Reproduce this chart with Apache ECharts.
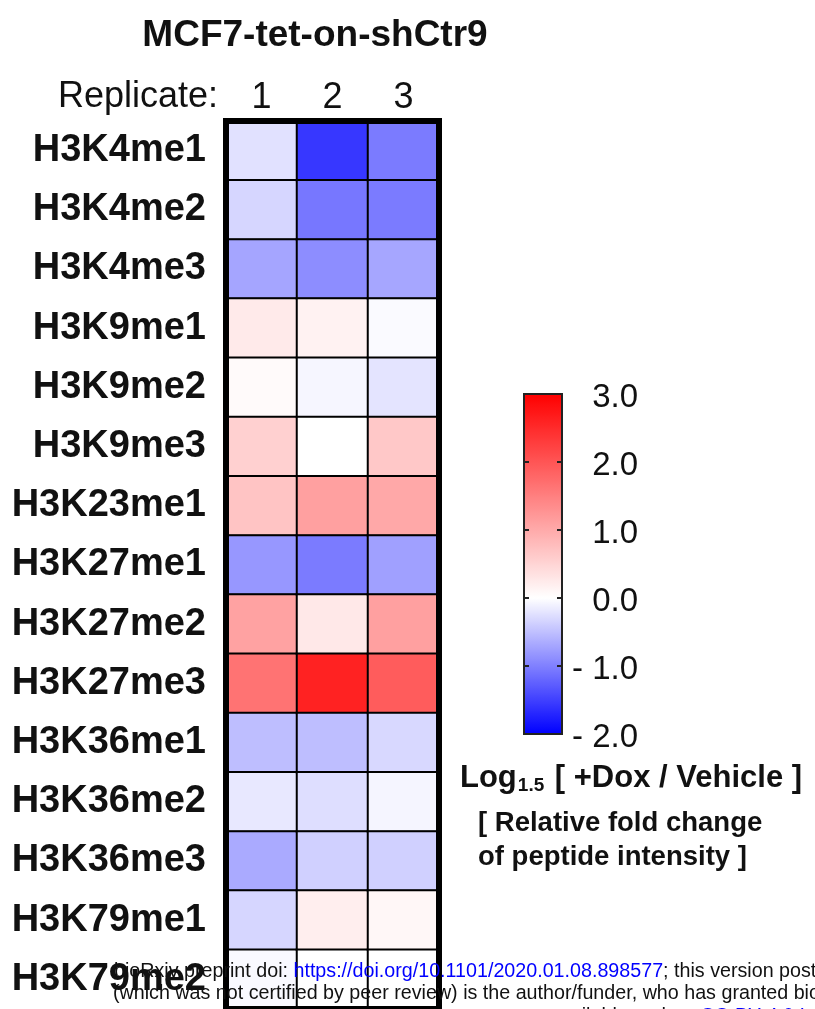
<!DOCTYPE html>
<html><head><meta charset="utf-8">
<script src="https://cdn.jsdelivr.net/npm/echarts@6/dist/echarts.min.js"></script>
<style>html,body{margin:0;padding:0;background:#fff}#c{width:815px;height:1009px}</style>
</head><body><div id="c"></div>
<script>
const marks = ['H3K4me1','H3K4me2','H3K4me3','H3K9me1','H3K9me2','H3K9me3','H3K23me1','H3K27me1','H3K27me2','H3K27me3','H3K36me1','H3K36me2','H3K36me3','H3K79me1','H3K79me2'];
const replicates = ['1','2','3'];
const rep1 = [-0.24,-0.32,-0.71,0.25,0.06,0.55,0.69,-0.82,1.10,1.65,-0.51,-0.18,-0.67,-0.32,-0.05];
const rep2 = [-1.57,-1.07,-0.90,0.15,-0.07,0.00,1.12,-1.04,0.27,2.60,-0.51,-0.26,-0.37,0.20,0.00];
const rep3 = [-1.04,-1.04,-0.70,-0.04,-0.21,0.65,1.02,-0.75,1.12,1.92,-0.31,-0.08,-0.37,0.10,0.00];
const scaleMin = -2, scaleMax = 3, scaleStep = 1;

const reps = [rep1, rep2, rep3];
const data = [];
reps.forEach((arr, xi) => arr.forEach((v, yi) => data.push([xi, yi, v])));

const FONT = '"Liberation Sans", Arial, sans-serif';
const chart = echarts.init(document.getElementById('c'), null, {renderer: 'canvas'});
chart.setOption({
  backgroundColor: '#ffffff',
  animation: false,
  grid: [
    {left: 226, top: 121, width: 213, height: 888, show: true, borderColor: '#000', borderWidth: 6, backgroundColor: 'transparent', z: 10},
    {left: 524, top: 394, width: 38, height: 340, show: true, borderColor: '#222', borderWidth: 2, backgroundColor: 'transparent', z: 10}
  ],
  xAxis: [
    {type: 'category', gridIndex: 0, data: replicates, position: 'top',
     axisLine: {show: false}, axisTick: {show: false}, splitLine: {show: false},
     axisLabel: {fontFamily: FONT, fontSize: 36, color: '#111', margin: 5}},
    {type: 'value', gridIndex: 1, show: false, min: 0, max: 1}
  ],
  yAxis: [
    {type: 'category', gridIndex: 0, data: marks, inverse: true,
     axisLine: {show: false}, axisTick: {show: false}, splitLine: {show: false},
     axisLabel: {fontFamily: FONT, fontSize: 38, fontWeight: 'bold', color: '#111', margin: 20}},
    {type: 'value', gridIndex: 1, position: 'left', min: scaleMin, max: scaleMax, interval: scaleStep, z: 12,
     axisLine: {show: false}, splitLine: {show: false}, axisLabel: {show: false},
     axisTick: {show: true, inside: true, length: 5, lineStyle: {color: '#222', width: 2}}},
    {type: 'value', gridIndex: 1, position: 'right', min: scaleMin, max: scaleMax, interval: scaleStep, z: 12,
     axisLine: {show: false}, splitLine: {show: false},
     axisTick: {show: true, inside: true, length: 5, lineStyle: {color: '#222', width: 2}},
     axisLabel: {fontFamily: FONT, fontSize: 33, color: '#111', margin: 76, align: 'right',
       formatter: v => '{v|' + (v < 0 ? '- ' + Math.abs(v).toFixed(1) : v.toFixed(1)) + '}',
       rich: {v: {fontFamily: FONT, fontSize: 33, color: '#111', padding: [7, 0, 0, 0]}}}}
  ],
  visualMap: {
    type: 'continuous', seriesIndex: 0, min: scaleMin, max: scaleMax,
    left: 524, top: 394, itemWidth: 38, itemHeight: 340, padding: 0,
    calculable: false,
    inRange: {color: ['#0000ff', '#8080ff', '#ffffff', '#ffaaaa', '#ff5555', '#ff0000']}
  },
  series: [{
    type: 'heatmap', xAxisIndex: 0, yAxisIndex: 0, data: data,
    itemStyle: {borderColor: '#000', borderWidth: 2},
    label: {show: false}
  }],
  graphic: [
    {type: 'text', x: 315, y: 36, style: {text: 'MCF7-tet-on-shCtr9', font: 'bold 37px ' + FONT, fill: '#111', textAlign: 'center', textVerticalAlign: 'middle'}},
    {type: 'text', x: 218, y: 97, style: {text: 'Replicate:', font: '36px ' + FONT, fill: '#111', textAlign: 'right', textVerticalAlign: 'middle'}},
    {type: 'text', x: 460, y: 778, style: {
      text: '{a|Log}{s|1.5}{a| [ +Dox / Vehicle ]}', fill: '#111', textAlign: 'left', textVerticalAlign: 'middle',
      rich: {a: {font: 'bold 31px ' + FONT, fill: '#111', lineHeight: 34, verticalAlign: 'middle'},
             s: {font: 'bold 19px ' + FONT, fill: '#111', lineHeight: 34, verticalAlign: 'bottom', padding: [0, 2, 0, 1]}}}},
    {type: 'text', x: 478, y: 823, style: {text: '[ Relative fold change', font: 'bold 27.5px ' + FONT, fill: '#111', textAlign: 'left', textVerticalAlign: 'middle'}},
    {type: 'text', x: 478, y: 857, style: {text: 'of peptide intensity ]', font: 'bold 27.5px ' + FONT, fill: '#111', textAlign: 'left', textVerticalAlign: 'middle'}},
    {type: 'text', x: 114, y: 972, z: 100, style: {
      text: '{k|bioRxiv preprint doi: }{b|https://doi.org/10.1101/2020.01.08.898577}{k|; this version posted January 9, 2020. The copyright holder for this preprint}',
      textAlign: 'left', textVerticalAlign: 'middle',
      rich: {k: {font: '19.7px ' + FONT, fill: '#111'}, b: {font: '19.7px ' + FONT, fill: '#0000ff'}}}},
    {type: 'text', x: 113, y: 994, z: 100, style: {
      text: '(which was not certified by peer review) is the author/funder, who has granted bioRxiv a license to display the preprint in perpetuity. It is made',
      font: '19.7px ' + FONT, fill: '#111', textAlign: 'left', textVerticalAlign: 'middle'}},
    {type: 'text', x: 550, y: 1017, z: 100, style: {
      text: '{k|available under a}{b|CC-BY 4.0 International license}{k|.}',
      textAlign: 'left', textVerticalAlign: 'middle',
      rich: {k: {font: '19.7px ' + FONT, fill: '#111'}, b: {font: '19.7px ' + FONT, fill: '#0000ff'}}}}
  ]
});
</script></body></html>
